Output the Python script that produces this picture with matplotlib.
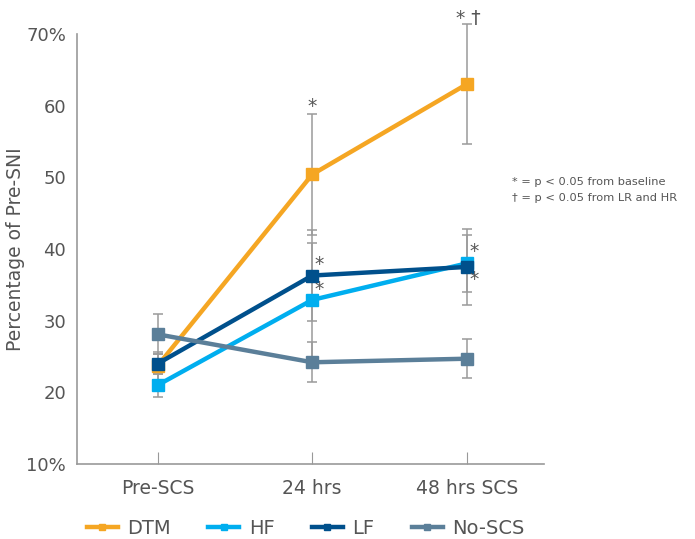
import matplotlib
matplotlib.use("Agg")
import matplotlib.pyplot as plt
from matplotlib.lines import Line2D

plt.rcParams["font.family"] = ["DejaVu Sans"]

# ---- data --------------------------------------------------------------------
timepoints = ["Pre-SCS", "24 hrs", "48 hrs SCS"]
series = ["DTM", "HF", "LF", "No-SCS"]
colors = ["#F5A623", "#00AEEF", "#00508C", "#5B7F99"]

dtm = [23.7, 50.4, 63.0]
hf = [21.0, 32.9, 38.0]
lf = [24.0, 36.3, 37.5]
no_scs = [28.1, 24.2, 24.7]

dtm_err = [2.0, 8.5, 8.4]
hf_err = [1.6, 7.9, 4.0]
lf_err = [1.4, 6.4, 5.3]
no_scs_err = [2.8, 2.8, 2.7]

values = [dtm, hf, lf, no_scs]
errors = [dtm_err, hf_err, lf_err, no_scs_err]

yticks = [10, 20, 30, 40, 50, 60, 70]
ytick_labels = ["10%", "20", "30", "40", "50", "60", "70%"]

# significance marks: (x index, y value, text, x offset in points)
marks = [
    (1, 59.9, "*", 0), (1, 37.9, "*", 5), (1, 34.3, "*", 5),
    (2, 72.1, "* \u2020", 1), (2, 39.6, "*", 5), (2, 35.7, "*", 5),
]
note = "* = p < 0.05 from baseline\n\u2020 = p < 0.05 from LR and HR"

TXT = "#555555"
GRID = "#999999"

fig = plt.figure(figsize=(6.95, 5.39), dpi=100)
ax = fig.add_axes([0.111, 0.139, 0.672, 0.798])

x = list(range(len(timepoints)))
for name, c, v, e in zip(series, colors, values, errors):
    eb = ax.errorbar(x, v, yerr=e, fmt="none", ecolor="#9a9a9a", elinewidth=1.1,
                     capsize=3.5, capthick=1.1, zorder=2)
    for art in eb.lines[1] + eb.lines[2]:
        art.set_clip_on(False)
for name, c, v in zip(series, colors, values):
    ax.plot(x, v, "-s", color=c, lw=3.2, ms=8, zorder=3)

for xi, yv, t, dx in marks:
    ax.annotate(t, (xi, yv), xytext=(dx, 0), textcoords="offset points",
                ha="center", va="center", fontsize=13.5, color=TXT,
                annotation_clip=False)

ax.text(0.737, 0.672, note, transform=fig.transFigure,
        ha="left", va="top", fontsize=8.2, color=TXT, linespacing=1.75)

ax.set_xlim(-0.52, 2.5)
ax.set_ylim(10, 70)
ax.set_yticks(yticks)
ax.set_yticklabels(ytick_labels)
ax.set_xticks(x)
ax.set_xticklabels(timepoints)
ax.tick_params(axis="y", length=0, labelsize=13, labelcolor=TXT, pad=8)
ax.tick_params(axis="x", direction="in", length=9, color=GRID, labelsize=13.5,
               labelcolor=TXT, pad=11)
for s in ("top", "right"):
    ax.spines[s].set_visible(False)
for s in ("left", "bottom"):
    ax.spines[s].set_color(GRID)
    ax.spines[s].set_linewidth(1.2)
ax.set_ylabel("Percentage of Pre-SNI", fontsize=13.5, color=TXT, labelpad=1)

handles = [Line2D([], [], color=c, lw=3.2, marker="s", ms=5) for c in colors]
fig.legend(handles, series, loc="lower center", bbox_to_anchor=(0.44, -0.03),
           ncol=4, frameon=False, fontsize=14, labelcolor=TXT,
           handlelength=1.6, columnspacing=1.9, handletextpad=0.5)

fig.savefig("out.png", dpi=100)
